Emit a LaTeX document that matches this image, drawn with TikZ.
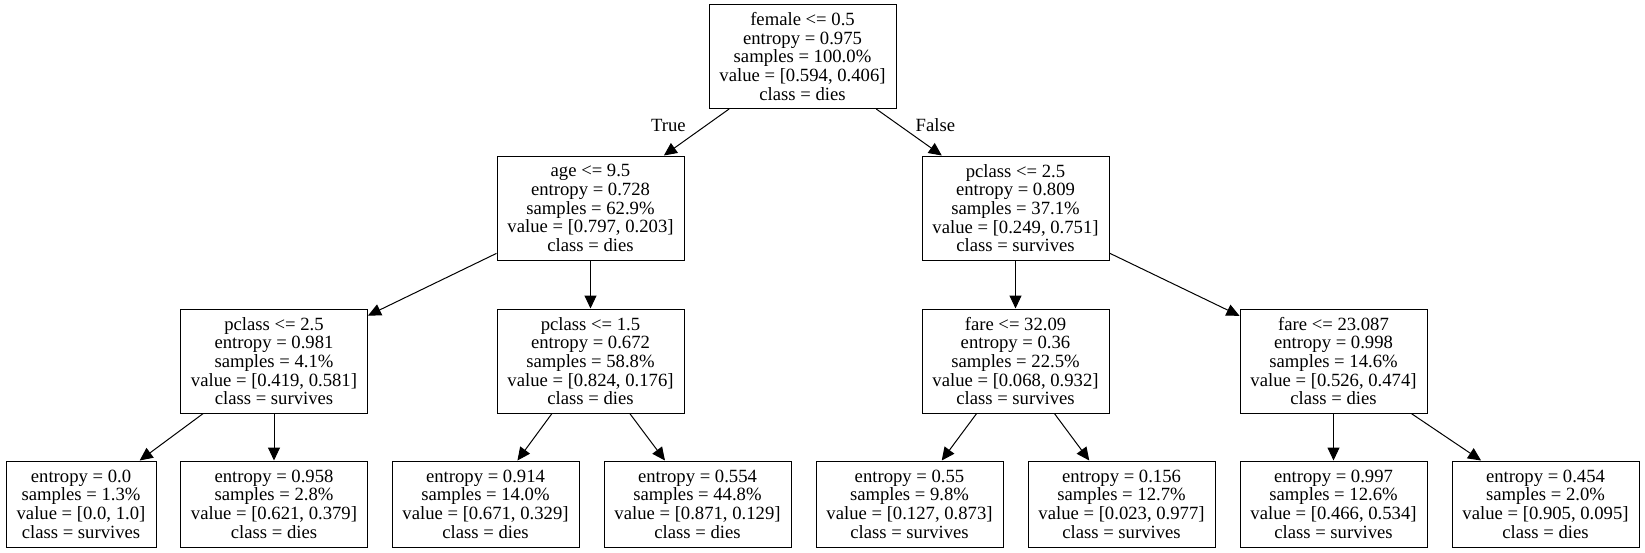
\documentclass[tikz,border=0pt]{standalone}
\usepackage{fontspec}
\setmainfont{Liberation Serif}
\usetikzlibrary{arrows.meta}
\newcommand{\treeFont}{\fontsize{18.67}{18.67}\selectfont}
\tikzset{
 tree/.style={line cap=butt,line join=miter,x=1pt,y=-1pt},
 split/.style={rectangle,draw=black,fill=white,line width=1pt,align=center,
   font=\treeFont,inner sep=0pt,minimum width=187pt,minimum height=104pt},
 leaf/.style={split,minimum height=86pt},
 branch/.style={draw=black,line width=1pt,-{Triangle[length=13pt,width=12pt]}},
 verdict/.style={font=\treeFont,inner sep=0pt}
}

\begin{document}
\begin{tikzpicture}[tree]
 \useasboundingbox[fill=white] (0,0) rectangle (1645,552);
 % level 0 and 1
 \node[split] (root) at (802.5,56.5) {female <= 0.5\\entropy = 0.975\\samples = 100.0\%\\value = [0.594, 0.406]\\class = dies};
 \node[split] (age) at (590.5,208) {age <= 9.5\\entropy = 0.728\\samples = 62.9\%\\value = [0.797, 0.203]\\class = dies};
 \node[split] (pcR) at (1015.5,208) {pclass <= 2.5\\entropy = 0.809\\samples = 37.1\%\\value = [0.249, 0.751]\\class = survives};
 % level 2
 \node[split] (pcL) at (274,361) {pclass <= 2.5\\entropy = 0.981\\samples = 4.1\%\\value = [0.419, 0.581]\\class = survives};
 \node[split] (pcM) at (590.5,361) {pclass <= 1.5\\entropy = 0.672\\samples = 58.8\%\\value = [0.824, 0.176]\\class = dies};
 \node[split] (fareA) at (1015.5,361) {fare <= 32.09\\entropy = 0.36\\samples = 22.5\%\\value = [0.068, 0.932]\\class = survives};
 \node[split] (fareB) at (1333.5,361) {fare <= 23.087\\entropy = 0.998\\samples = 14.6\%\\value = [0.526, 0.474]\\class = dies};
 % leaves
 \node[leaf,minimum width=150pt] (l1) at (81,504) {entropy = 0.0\\samples = 1.3\%\\value = [0.0, 1.0]\\class = survives};
 \node[leaf] (l2) at (274,504) {entropy = 0.958\\samples = 2.8\%\\value = [0.621, 0.379]\\class = dies};
 \node[leaf] (l3) at (485.5,504) {entropy = 0.914\\samples = 14.0\%\\value = [0.671, 0.329]\\class = dies};
 \node[leaf] (l4) at (697.5,504) {entropy = 0.554\\samples = 44.8\%\\value = [0.871, 0.129]\\class = dies};
 \node[leaf] (l5) at (909.5,504) {entropy = 0.55\\samples = 9.8\%\\value = [0.127, 0.873]\\class = survives};
 \node[leaf] (l6) at (1121.5,504) {entropy = 0.156\\samples = 12.7\%\\value = [0.023, 0.977]\\class = survives};
 \node[leaf] (l7) at (1333.5,504) {entropy = 0.997\\samples = 12.6\%\\value = [0.466, 0.534]\\class = survives};
 \node[leaf] (l8) at (1545.5,504) {entropy = 0.454\\samples = 2.0\%\\value = [0.905, 0.095]\\class = dies};
 % edges
 \draw[branch] (root) -- node[verdict,pos=.35,left=20pt] {True} (age);
 \draw[branch] (root) -- node[verdict,pos=.35,right=16pt] {False} (pcR);
 \draw[branch] (age) -- (pcL);
 \draw[branch] (age) -- (pcM);
 \draw[branch] (pcR) -- (fareA);
 \draw[branch] (pcR) -- (fareB);
 \draw[branch] (pcL) -- (l1);
 \draw[branch] (pcL) -- (l2);
 \draw[branch] (pcM) -- (l3);
 \draw[branch] (pcM) -- (l4);
 \draw[branch] (fareA) -- (l5);
 \draw[branch] (fareA) -- (l6);
 \draw[branch] (fareB) -- (l7);
 \draw[branch] (fareB) -- (l8);
\end{tikzpicture}
\end{document}
